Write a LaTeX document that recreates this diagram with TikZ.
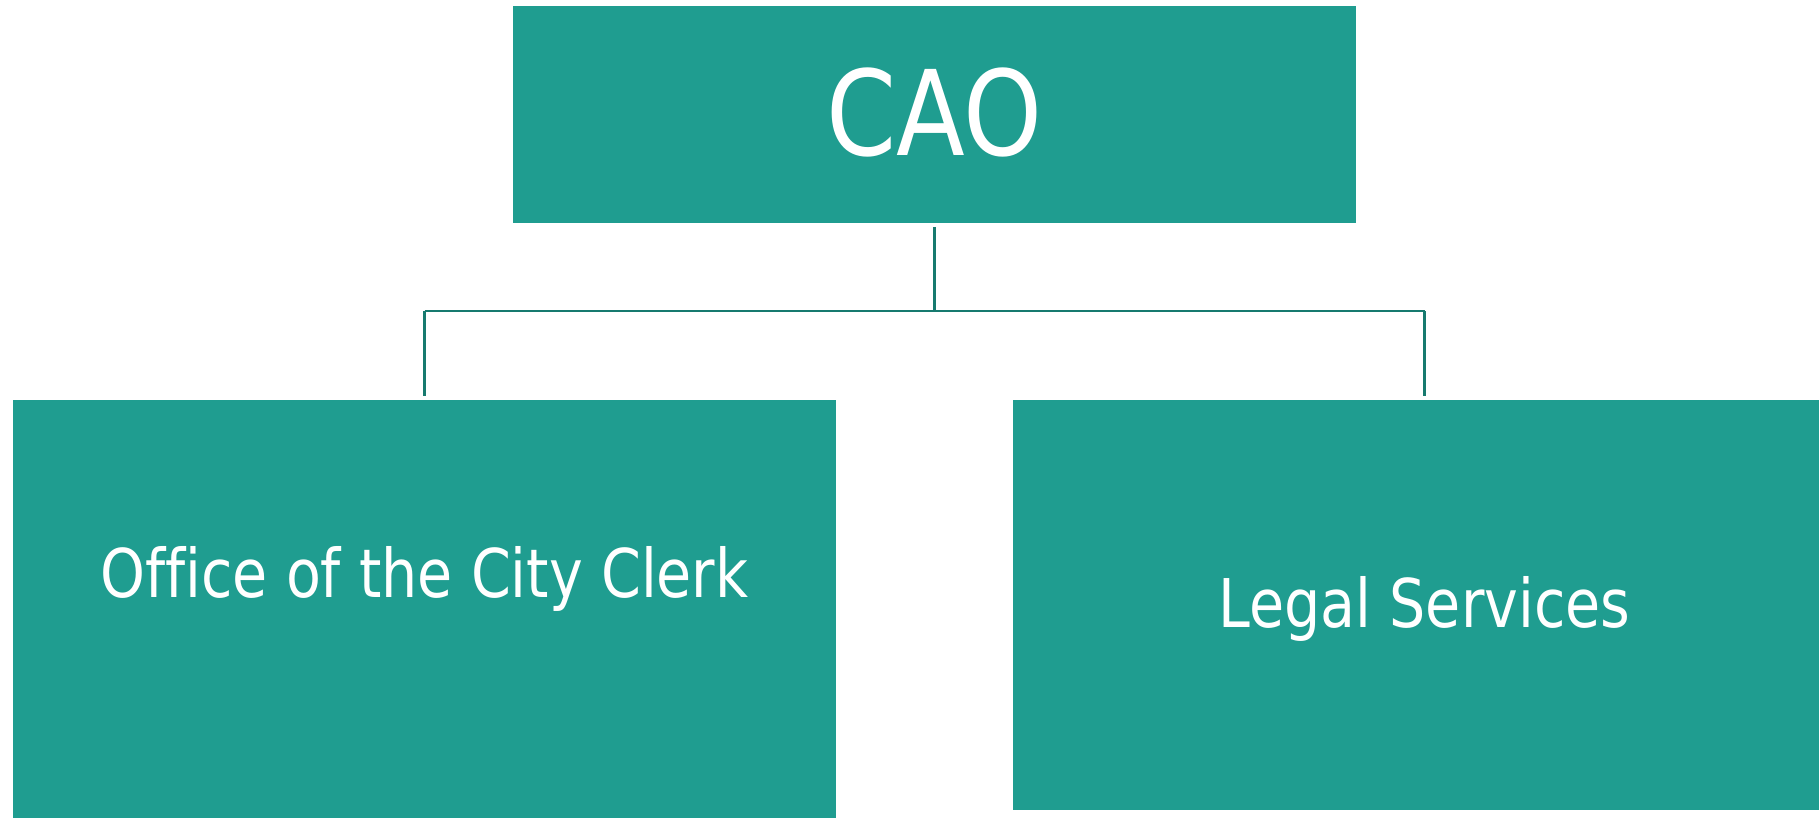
\documentclass[tikz,border=0pt]{standalone}
\usepackage{fontspec}
\usepackage{xcolor}
\usetikzlibrary{positioning, calc}
\newfontfamily\boxfont[FakeStretch=0.85, Ligatures=NoCommon]{DejaVu Sans}
\definecolor{unitfill}{HTML}{1F9D90}
\definecolor{unitline}{HTML}{177A6F}

\begin{document}
\begin{tikzpicture}[x=0.01cm, y=-0.01cm,
    unit/.style={rectangle, fill=unitfill, inner sep=0pt, text=white},
    conn/.style={draw=unitline, line width=0.7pt}]
                \useasboundingbox (0,0) rectangle (1819,817);
                \node[unit, minimum width=8.43cm, minimum height=2.17cm, text depth=0.05cm, font=\boxfont\fontsize{33.6}{36}\selectfont] (cao) at (934.5,114.5) {CAO};
                \node[unit, minimum width=8.23cm, minimum height=4.6cm] (clerk) at (424.5,630) {};
                \node[anchor=base, text=white, inner sep=0pt, font=\boxfont\fontsize{19.1}{22}\selectfont] (clerktext) at (424.5,597) {Office of the City Clerk};
                \node[unit, minimum width=8.23cm, minimum height=4.1cm, text depth=0.07cm, font=\boxfont\fontsize{19.1}{22}\selectfont] (legal) at (1424.5,605) {Legal Services};
                \coordinate (bus) at (934.5,311);

                \draw[conn, shorten <=0.9pt] (cao.south) -- (cao |- bus);
                \draw[conn] (clerk.north |- bus) -- (legal.north |- bus);
                \draw[conn, shorten >=0.9pt] (clerk.north |- bus) -- (clerk.north);
                \draw[conn, shorten >=0.9pt] (legal.north |- bus) -- (legal.north);
            \end{tikzpicture}
\end{document}
